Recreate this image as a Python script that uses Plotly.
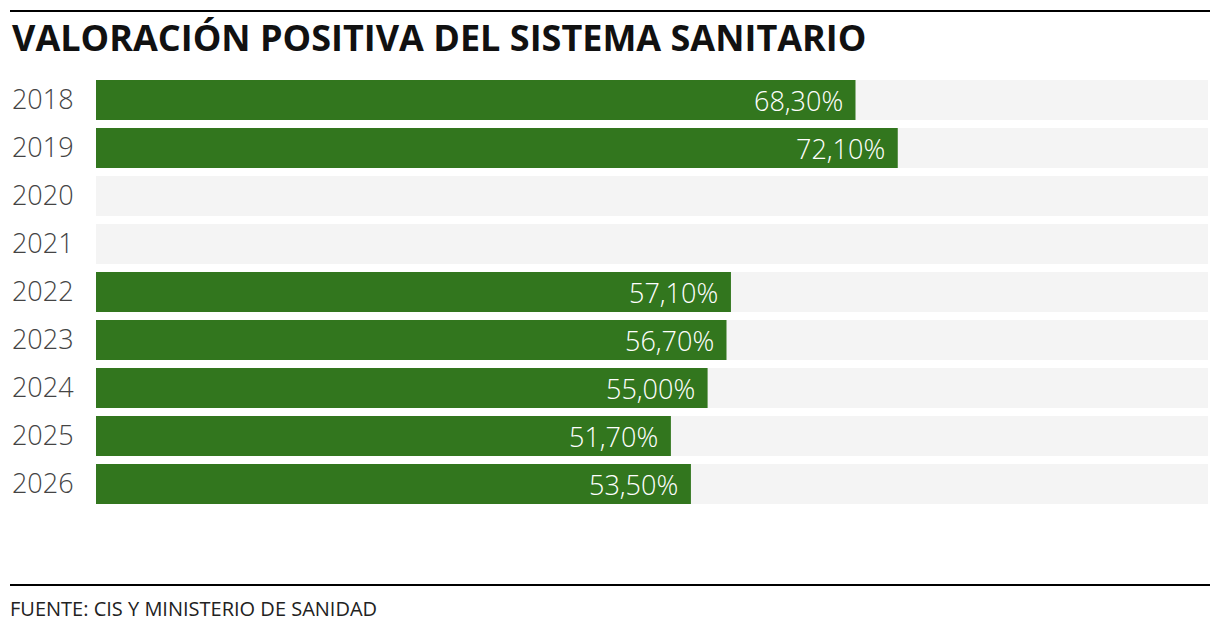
import plotly.graph_objects as go

years = ["2018", "2019", "2020", "2021", "2022", "2023", "2024", "2025", "2026"]
valoracion = [68.3, 72.1, None, None, 57.1, 56.7, 55.0, 51.7, 53.5]
fondo = [100] * len(years)

W, H = 1220, 632
L, R, T, B = 96, 12, 76, 124
pw, ph = W - L - R, H - T - B

def px_x(x):
    return (x - L) / pw

def px_y(y):
    return (H - B - y) / ph

fig = go.Figure()
fig.add_trace(go.Bar(y=years, x=fondo, orientation="h", marker_color="#f4f4f4",
                     hoverinfo="skip", showlegend=False))
fig.add_trace(go.Bar(y=years, x=valoracion, orientation="h", marker_color="#32761e",
                     showlegend=False))

# etiquetas de valor dentro de la barra
for i, v in enumerate(valoracion):
    if v is None:
        continue
    fig.add_annotation(x=v, y=i, xref="x", yref="y", xanchor="right", yanchor="middle",
                       xshift=-11, showarrow=False,
                       text=f"{v:.2f}".replace(".", ",") + "%",
                       font=dict(family="Open Sans", size=27, color="white", weight=300))

fig.add_annotation(x=px_x(10), y=px_y(37), xref="paper", yref="paper",
                   xanchor="left", yanchor="middle", showarrow=False,
                   text="VALORACIÓN POSITIVA DEL SISTEMA SANITARIO",
                   font=dict(family="Open Sans", size=36, color="#111", weight=700))
fig.add_annotation(x=px_x(8), y=px_y(608), xref="paper", yref="paper",
                   xanchor="left", yanchor="middle", showarrow=False,
                   text="FUENTE: CIS Y MINISTERIO DE SANIDAD",
                   font=dict(family="Open Sans", size=20, color="#222"))

for yy in (11, 585):
    fig.add_shape(type="line", xref="paper", yref="paper",
                  x0=px_x(10), x1=px_x(1210), y0=px_y(yy), y1=px_y(yy),
                  line=dict(color="black", width=2))

fig.update_layout(
    template="none",
    width=W, height=H,
    margin=dict(l=L, r=R, t=T, b=B, autoexpand=False),
    barmode="overlay", bargap=1/6,
    plot_bgcolor="white", paper_bgcolor="white",
    xaxis=dict(range=[0, 100], visible=False, fixedrange=True, automargin=False),
    yaxis=dict(type="category", categoryorder="array", categoryarray=years,
               range=[len(years) - 0.5, -0.5], autorange=False, automargin=False,
               showgrid=False, zeroline=False, showline=False, fixedrange=True,
               ticks="outside", ticklen=16, tickcolor="rgba(0,0,0,0)",
               tickfont=dict(family="Open Sans", size=27, color="#444", weight=300)),
)

fig.write_html("out.html", config={"displayModeBar": False},
               post_script="document.body.style.margin='0';document.body.style.overflow='hidden';")
